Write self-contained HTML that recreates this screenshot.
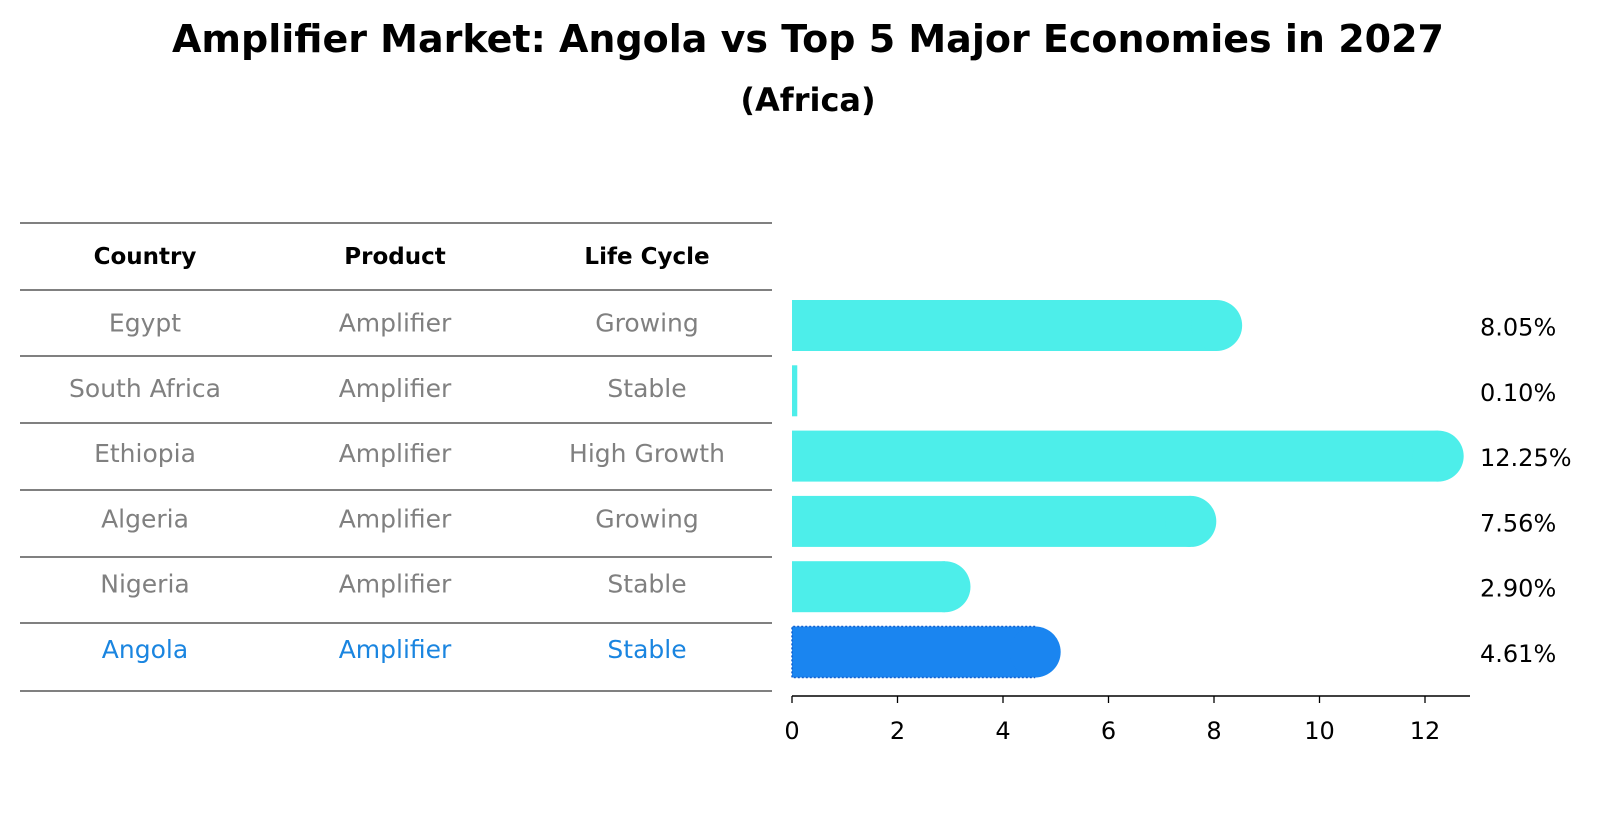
<!DOCTYPE html>
<html><head><meta charset="utf-8"><style>
body{margin:0;background:#fff;font-family:"Liberation Sans","DejaVu Sans",sans-serif}
svg text{font-family:"DejaVu Sans","Liberation Sans",sans-serif}
</style></head><body>
<svg id="c" width="1604" height="823" xmlns="http://www.w3.org/2000/svg">
<text x="808" y="52" text-anchor="middle" font-size="38" font-weight="bold">Amplifier Market: Angola vs Top 5 Major Economies in 2027</text>
<text x="808" y="111" text-anchor="middle" font-size="32" font-weight="bold">(Africa)</text>
<g id="tbl"></g>
<g id="bars"></g>
</svg>
<script>
const countries=["Egypt","South Africa","Ethiopia","Algeria","Nigeria","Angola"];
const products=["Amplifier","Amplifier","Amplifier","Amplifier","Amplifier","Amplifier"];
const lifecycle=["Growing","Stable","High Growth","Growing","Stable","Stable"];
const values=[8.05,0.10,12.25,7.56,2.90,4.61];
const ticks=[0,2,4,6,8,10,12];
const NS="http://www.w3.org/2000/svg";
const tbl=document.getElementById('tbl'),bars=document.getElementById('bars');
function mk(tag,attrs,parent,txt){const e=document.createElementNS(NS,tag);for(const k in attrs)e.setAttribute(k,attrs[k]);if(txt!==undefined)e.textContent=txt;parent.appendChild(e);return e;}
const x0=792,sc=52.75;
const xs=v=>x0+v*sc;
const rowY=i=>325.5+i*65.3;
const lineYs=[223,290,356,423,490,557,623,691];
lineYs.forEach(y=>{const l=mk('line',{x1:20,x2:772,y1:y,y2:y,stroke:'#000','stroke-width':1},tbl);

});
const colX=[145,395,647];
["Country","Product","Life Cycle"].forEach((h,j)=>{const t=mk('text',{x:colX[j],y:264,'text-anchor':'middle','font-size':23,'font-weight':'bold'},tbl,h);

});
countries.forEach((c,i)=>{
 const col=c==="Angola"?'#1a85e0':'#808080';
 const y=rowY(i)-3;
 [c,products[i],lifecycle[i]].forEach((s,j)=>{const t=mk('text',{x:colX[j],y:y+9,'text-anchor':'middle','font-size':25,fill:col},tbl,s);
 
 });
 const v=values[i],cy=rowY(i),h=51,fill=c==="Angola"?'#1a85f0':'#4deeea';
 const g=mk('g',{},bars);
 
 
 const w=Math.max(xs(v)-x0,5);
 mk('rect',{x:x0,y:cy-h/2,width:w,height:h,fill:fill},g);
 if(v>0.5)mk('circle',{cx:xs(v),cy:cy,r:h/2,fill:fill},g);
 if(c==="Angola")mk('path',{d:`M${x0+w} ${cy-h/2} H${x0} V${cy+h/2} H${x0+w}`,fill:'none',stroke:'#1060d0','stroke-width':1.5,'stroke-dasharray':'2,2'},g);
 const t=mk('text',{x:1480,y:cy+10,'font-size':24},bars,v.toFixed(2)+'%');
 
 
});
const ax=mk('line',{x1:x0,x2:1470,y1:696,y2:696,stroke:'#000','stroke-width':1.5},bars);


ticks.forEach(tv=>{mk('line',{x1:xs(tv),x2:xs(tv),y1:696,y2:703,stroke:'#000','stroke-width':1.3},bars);
 const t=mk('text',{x:xs(tv),y:739,'text-anchor':'middle','font-size':24},bars,tv);
 
 });
</script>
</body></html>
